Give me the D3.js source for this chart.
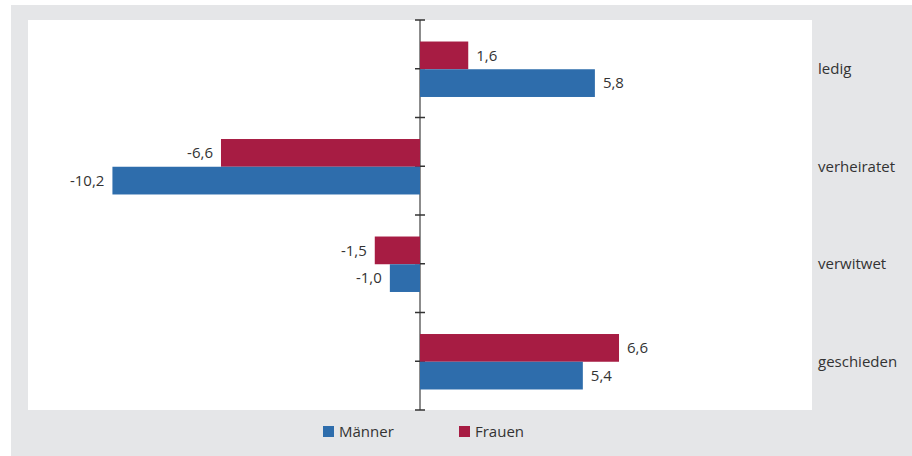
<!DOCTYPE html>
<html>
<head>
<meta charset="utf-8">
<script src="https://cdn.jsdelivr.net/npm/d3@7"></script>
<style>
  body { margin: 0; background: #fff; }
  text { font-family: "Open Sans", "Noto Sans", sans-serif; font-size: 15px; fill: #333; }
</style>
</head>
<body>
<div id="chart"></div>
<script>
var categories = ['ledig', 'verheiratet', 'verwitwet', 'geschieden'];
var seriesNames = ['Frauen', 'Männer'];
var frauen = [1.6, -6.6, -1.5, 6.6];
var maenner = [5.8, -10.2, -1.0, 5.4];
var legendNames = ['Männer', 'Frauen'];

var colors = { 'Männer': '#2e6dac', 'Frauen': '#a71c43' };

var width = 912, height = 456;
var plot = { left: 28, right: 812, top: 20, bottom: 410 };

var svg = d3.select('#chart').append('svg')
  .attr('width', width)
  .attr('height', height);

// grey panel + white plot area
svg.append('rect')
  .attr('x', 11).attr('y', 5)
  .attr('width', width - 11).attr('height', height - 5)
  .attr('fill', '#e5e6e8');

svg.append('rect')
  .attr('x', plot.left).attr('y', plot.top)
  .attr('width', plot.right - plot.left).attr('height', plot.bottom - plot.top)
  .attr('fill', '#fff');

var x = d3.scaleLinear().domain([-13, 13]).range([plot.left, plot.right]);
var y0 = d3.scaleBand().domain(categories).range([plot.top, plot.bottom]);
var y1 = d3.scaleBand().domain(seriesNames).range([1, y0.bandwidth()]).paddingOuter(0.74);

var rows = categories.map(function(c, i) {
  return { cat: c, values: [
    { name: 'Frauen', v: frauen[i] },
    { name: 'Männer', v: maenner[i] }
  ]};
});

// axis line at zero
var zx = x(0);
svg.append('line')
  .attr('x1', zx).attr('x2', zx)
  .attr('y1', plot.top).attr('y2', plot.bottom)
  .attr('stroke', '#8c8c8c')
  .attr('stroke-width', 2);

// ticks: category boundaries and midpoints
var tickYs = [];
categories.forEach(function(c) {
  tickYs.push(y0(c));
  tickYs.push(y0(c) + y0.bandwidth() / 2);
});
tickYs.push(plot.bottom);

svg.selectAll('.tick')
  .data(tickYs)
  .enter().append('line')
  .attr('x1', zx - 5).attr('x2', zx + 5)
  .attr('y1', function(d) { return d; })
  .attr('y2', function(d) { return d; })
  .attr('stroke', '#333')
  .attr('stroke-width', 1.5);

var groups = svg.selectAll('.grp')
  .data(rows)
  .enter().append('g')
  .attr('transform', function(d) { return 'translate(0,' + y0(d.cat) + ')'; });

groups.selectAll('rect')
  .data(function(d) { return d.values; })
  .enter().append('rect')
  .attr('x', function(d) { return x(Math.min(0, d.v)); })
  .attr('y', function(d) { return y1(d.name); })
  .attr('width', function(d) { return Math.abs(x(d.v) - x(0)); })
  .attr('height', y1.bandwidth())
  .attr('fill', function(d) { return colors[d.name]; });

groups.selectAll('.lbl')
  .data(function(d) { return d.values; })
  .enter().append('text')
  .attr('x', function(d) { return d.v >= 0 ? x(d.v) + 8 : x(d.v) - 8; })
  .attr('y', function(d) { return y1(d.name) + y1.bandwidth() / 2; })
  .attr('dy', '0.35em')
  .attr('text-anchor', function(d) { return d.v >= 0 ? 'start' : 'end'; })
  .text(function(d) { return d3.format('.1f')(d.v).replace('.', ',').replace('−', '-'); });

// category labels on the right
svg.selectAll('.cat')
  .data(categories)
  .enter().append('text')
  .attr('x', 818)
  .attr('y', function(d) { return y0(d) + y0.bandwidth() / 2; })
  .attr('dy', '0.35em')
  .text(function(d) { return d; });

// legend
var legendX = [323, 459];
var leg = svg.selectAll('.leg')
  .data(legendNames)
  .enter().append('g')
  .attr('transform', function(d, i) { return 'translate(' + legendX[i] + ',426)'; });

leg.append('rect')
  .attr('width', 11).attr('height', 11)
  .attr('fill', function(d) { return colors[d]; });

leg.append('text')
  .attr('x', 16)
  .attr('y', 5.5)
  .attr('dy', '0.35em')
  .text(function(d) { return d; });
</script>
</body>
</html>
